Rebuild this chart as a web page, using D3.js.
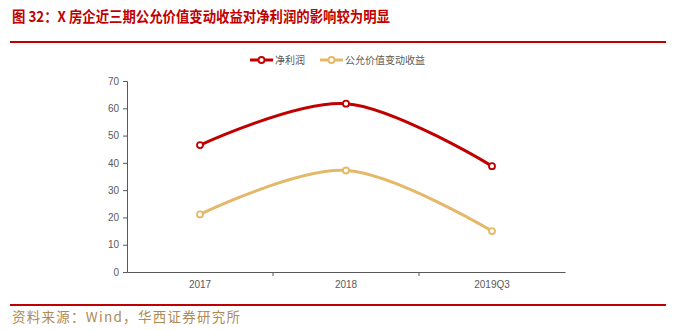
<!DOCTYPE html>
<html>
<head>
<meta charset="utf-8">
<script src="https://cdn.jsdelivr.net/npm/d3@7/dist/d3.min.js"></script>
<style>
  html, body { margin: 0; padding: 0; background: #fff; }
  svg { display: block; }
</style>
</head>
<body>
<svg id="chart" width="676" height="330"></svg>
<script>
// Reporting periods and series values (亿元)
const categories = ["2017", "2018", "2019Q3"];
const netProfit = [46.5, 61.7, 38.8];
const fairValueGain = [21.1, 37.2, 15.0];
const seriesNames = ["净利润", "公允价值变动收益"];
const yTicks = [0, 10, 20, 30, 40, 50, 60, 70];

const titleText = "图 32：X 房企近三期公允价值变动收益对净利润的影响较为明显";
const sourceText = "资料来源：Wind，华西证券研究所";

const RED = "#C00000";
const GOLD = "#E4B868";
const AXIS = "#595959";
const cjk = "'Noto Sans CJK SC', sans-serif";
const latin = "'Liberation Sans', Arial, sans-serif";

const svg = d3.select("#chart");

// Header
svg.append("text")
  .attr("x", 12).attr("y", 22)
  .attr("fill", RED)
  .attr("font-family", cjk)
  .attr("font-weight", "bold")
  .attr("font-size", 15)
  .attr("textLength", 378)
  .attr("lengthAdjust", "spacingAndGlyphs")
  .text(titleText);
svg.append("line")
  .attr("x1", 10).attr("x2", 666).attr("y1", 42).attr("y2", 42)
  .attr("stroke", RED).attr("stroke-width", 2);

// Footer
svg.append("line")
  .attr("x1", 10).attr("x2", 666).attr("y1", 305).attr("y2", 305)
  .attr("stroke", RED).attr("stroke-width", 2);
svg.append("text")
  .attr("x", 12).attr("y", 322)
  .attr("fill", "#B08A55")
  .attr("font-family", cjk)
  .attr("font-size", 13.5)
  .attr("textLength", 228)
  .attr("lengthAdjust", "spacing")
  .text(sourceText);

// Plot area
const plot = { left: 127, right: 565, top: 81, bottom: 272 };
const x = d3.scaleBand().domain(categories).range([plot.left, plot.right]);
const y = d3.scaleLinear().domain([0, 70]).range([plot.bottom, plot.top]);

const yAxis = svg.append("g")
  .attr("transform", `translate(${plot.left},0)`)
  .call(d3.axisLeft(y).tickValues(yTicks).tickSize(4).tickPadding(4));
yAxis.select(".domain").attr("stroke", AXIS);
yAxis.selectAll(".tick line").attr("stroke", AXIS);
yAxis.selectAll("text").attr("fill", AXIS).attr("font-family", latin).attr("font-size", 10);

const xAxis = svg.append("g")
  .attr("transform", `translate(0,${plot.bottom})`)
  .call(d3.axisBottom(x).tickSize(0).tickPadding(9).tickSizeOuter(0));
xAxis.select(".domain").attr("stroke", AXIS);
xAxis.selectAll("text").attr("fill", AXIS).attr("font-family", latin).attr("font-size", 10);
// Category boundary ticks
xAxis.selectAll(".sep")
  .data(categories.slice(1))
  .enter().append("line")
  .attr("class", "sep")
  .attr("x1", d => x(d)).attr("x2", d => x(d))
  .attr("y1", 0).attr("y2", 4)
  .attr("stroke", AXIS);

// Smoothed lines with hollow markers
const cx = (d, i) => x(categories[i]) + x.bandwidth() / 2;
const line = d3.line()
  .x(cx)
  .y(d => y(d))
  .curve(d3.curveCardinal.tension(0));

const series = [
  { name: seriesNames[0], values: netProfit, color: RED },
  { name: seriesNames[1], values: fairValueGain, color: GOLD }
];

series.forEach(s => {
  svg.append("path")
    .datum(s.values)
    .attr("d", line)
    .attr("fill", "none")
    .attr("stroke", s.color)
    .attr("stroke-width", 3);
  svg.selectAll(null)
    .data(s.values)
    .enter().append("circle")
    .attr("cx", cx)
    .attr("cy", d => y(d))
    .attr("r", 3)
    .attr("fill", "#fff")
    .attr("stroke", s.color)
    .attr("stroke-width", 1.8);
});

// Legend
const legendItems = [
  { name: seriesNames[0], color: RED, x: 250 },
  { name: seriesNames[1], color: GOLD, x: 320 }
];
legendItems.forEach(it => {
  const g = svg.append("g").attr("transform", `translate(${it.x},60)`);
  g.append("line").attr("x1", 0).attr("x2", 23).attr("y1", 0).attr("y2", 0)
    .attr("stroke", it.color).attr("stroke-width", 3);
  g.append("circle").attr("cx", 11.5).attr("cy", 0).attr("r", 3)
    .attr("fill", "#fff").attr("stroke", it.color).attr("stroke-width", 1.8);
  g.append("text").attr("x", 25).attr("y", 3.5)
    .attr("fill", AXIS).attr("font-family", cjk).attr("font-size", 10)
    .text(it.name);
});
</script>
</body>
</html>
